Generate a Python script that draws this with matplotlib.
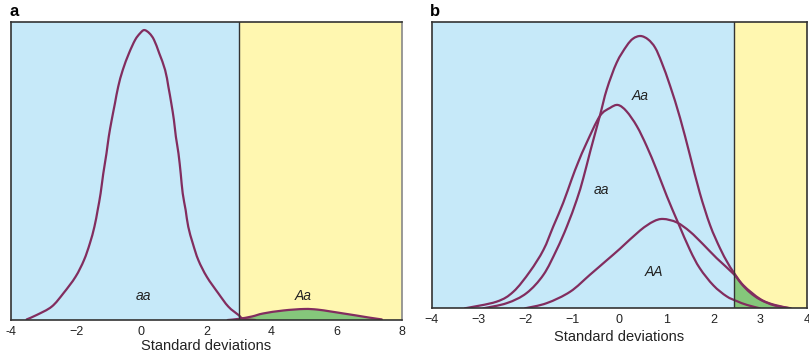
"""Liability-threshold sketch: genotype distributions against a disease threshold."""
import matplotlib
matplotlib.use("Agg")
import matplotlib.pyplot as plt
from matplotlib.path import Path
from matplotlib.patches import PathPatch, Rectangle
import numpy as np

plt.rcParams["font.family"] = ["Liberation Sans", "DejaVu Sans"]

# ---------------------------------------------------------------------------
# Data (in standard deviations / relative height)
# ---------------------------------------------------------------------------
# Panel a
a_threshold = 3.0
a_aa_x = [-3.52, -3.21, -2.75, -2.39, -2.02, -1.76, -1.58, -1.44, -1.34, -1.25,
          -1.17, -1.07, -1.00, -0.91, -0.81, -0.71, -0.57, -0.38, -0.19, -0.04,
          0.09, 0.25, 0.39, 0.55, 0.73, 0.83, 0.92, 1.00, 1.06, 1.14,
          1.21, 1.27, 1.36, 1.44, 1.58, 1.75, 2.01, 2.36, 2.67, 2.98, 3.13, 3.50]
a_aa_y = [0.002, 0.017, 0.045, 0.090, 0.145, 0.201, 0.257, 0.313, 0.369, 0.425,
          0.490, 0.559, 0.615, 0.671, 0.727, 0.783, 0.839, 0.895, 0.940, 0.962,
          0.973, 0.962, 0.940, 0.895, 0.839, 0.783, 0.727, 0.671, 0.615, 0.559,
          0.490, 0.425, 0.369, 0.313, 0.257, 0.201, 0.145, 0.090, 0.045, 0.017,
          0.004, 0.0]
a_Aa_x = [2.65, 3.0, 3.4, 3.74, 4.36, 5.0, 5.4, 5.79, 6.2, 6.61, 7.0, 7.38]
a_Aa_y = [0.0, 0.004, 0.012, 0.022, 0.032, 0.037, 0.035, 0.029, 0.022, 0.015, 0.008, 0.002]
a_ticks = [-4, -2, 0, 2, 4, 6, 8]
a_ticklabels = ["-4", "\u22122", "0", "2", "4", "6", "8"]

# Panel b
b_threshold = 2.43
b_aa_x = [-3.29, -2.62, -2.26, -1.91, -1.62, -1.41, -1.20, -1.02, -0.88, -0.70,
          -0.42, -0.20, -0.03, 0.15, 0.37, 0.58, 0.79, 1.01, 1.25, 1.50,
          1.71, 2.00, 2.28, 2.50, 2.71, 2.99]
b_aa_y = [0.0, 0.023, 0.058, 0.128, 0.204, 0.286, 0.368, 0.450, 0.510, 0.578,
          0.671, 0.700, 0.710, 0.688, 0.636, 0.566, 0.484, 0.391, 0.298, 0.204,
          0.140, 0.080, 0.042, 0.025, 0.012, 0.0]
b_Aa_x = [-2.90, -2.40, -1.98, -1.62, -1.34, -1.12, -0.91, -0.77, -0.62, -0.42,
          -0.27, -0.06, 0.15, 0.29, 0.45, 0.61, 0.76, 0.90, 1.08, 1.29,
          1.50, 1.71, 1.93, 2.14, 2.30, 2.43, 2.64, 3.00, 3.30, 3.65]
b_Aa_y = [0.0, 0.018, 0.053, 0.117, 0.204, 0.286, 0.379, 0.455, 0.550, 0.671,
          0.765, 0.858, 0.916, 0.942, 0.951, 0.939, 0.910, 0.858, 0.776, 0.665,
          0.535, 0.403, 0.290, 0.210, 0.160, 0.126, 0.080, 0.032, 0.012, 0.0]
b_AA_x = [-2.01, -1.55, -1.05, -0.63, -0.27, 0.01, 0.44, 0.72, 0.93, 1.22,
          1.50, 1.79, 2.07, 2.43, 2.60, 2.78, 3.00, 3.30, 3.63]
b_AA_y = [0.0, 0.018, 0.058, 0.117, 0.168, 0.208, 0.272, 0.303, 0.312, 0.300,
          0.268, 0.222, 0.175, 0.120, 0.085, 0.055, 0.030, 0.010, 0.0]
b_ticks = [-4, -3, -2, -1, 0, 1, 2, 3, 4]
b_ticklabels = ["\u22124", "\u22123", "\u22122", "\u22121", "0", "1", "2", "3", "4"]

# ---------------------------------------------------------------------------
# Style
# ---------------------------------------------------------------------------
BLUE = "#c6e9f9"
YELLOW = "#fff7b0"
GREEN = "#85c77b"
CURVE = "#822d5f"
FRAME = "#333333"
TEXT = "#222222"


def smooth_path(xs, ys, close_to_base=False):
    """Catmull-Rom spline through the points, as cubic Bezier path."""
    p = np.column_stack([xs, ys]).astype(float)
    ext = np.vstack([p[0], p, p[-1]])
    verts = [p[0]]
    codes = [Path.MOVETO]
    for i in range(len(p) - 1):
        p0, p1, p2, p3 = ext[i], ext[i + 1], ext[i + 2], ext[i + 3]
        verts += [p1 + (p2 - p0) / 6, p2 - (p3 - p1) / 6, p2]
        codes += [Path.CURVE4] * 3
    if close_to_base:
        verts += [(p[-1, 0], 0), (p[0, 0], 0), p[0]]
        codes += [Path.LINETO, Path.LINETO, Path.CLOSEPOLY]
    return Path(verts, codes)


def draw_curve(ax, xs, ys):
    ax.add_patch(PathPatch(smooth_path(xs, ys), fill=False, edgecolor=CURVE,
                           lw=1.6, zorder=3, capstyle="round"))


def fill_tail(ax, xs, ys, threshold, xmax):
    patch = PathPatch(smooth_path(xs, ys, close_to_base=True), facecolor=GREEN,
                      edgecolor="none", zorder=1)
    ax.add_patch(patch)
    clip = Rectangle((threshold, 0), xmax - threshold, 1, transform=ax.transData)
    patch.set_clip_path(clip)


def style_axes(ax, xlim, ticks, ticklabels, threshold, labelpad):
    ax.set_xlim(*xlim)
    ax.set_ylim(0, 1)
    ax.axvspan(xlim[0], threshold, color=BLUE, zorder=0, lw=0)
    ax.axvspan(threshold, xlim[1], color=YELLOW, zorder=0, lw=0)
    ax.axvline(threshold, color=FRAME, lw=1.0, zorder=4)
    ax.set_xticks(ticks)
    ax.set_xticklabels(ticklabels, fontsize=9, color=TEXT)
    ax.set_yticks([])
    ax.tick_params(axis="x", length=0, pad=4)
    ax.set_xlabel("Standard deviations", fontsize=10.5, color=TEXT, labelpad=labelpad)
    for s in ax.spines.values():
        s.set_color(FRAME)
        s.set_linewidth(1.2)
        s.set_zorder(5)


fig = plt.figure(figsize=(8.09, 3.54), dpi=100)

# --- Panel a ---
ax = fig.add_axes([0.0136, 0.096, 0.4833, 0.8418])
style_axes(ax, (-4, 8), a_ticks, a_ticklabels, a_threshold, labelpad=1)
ax.spines["right"].set_color("#888888")
fill_tail(ax, a_Aa_x, a_Aa_y, a_threshold, 8)
draw_curve(ax, a_aa_x, a_aa_y)
draw_curve(ax, a_Aa_x, a_Aa_y)
ax.text(0.05, 0.081, "aa", fontsize=10, style="italic", ha="center", va="center", color=TEXT)
ax.text(4.96, 0.081, "Aa", fontsize=10, style="italic", ha="center", va="center", color=TEXT)
fig.text(0.012, 0.968, "a", fontsize=12, fontweight="bold", va="center")

# --- Panel b ---
ax = fig.add_axes([0.5336, 0.1291, 0.4643, 0.8088])
style_axes(ax, (-4, 4), b_ticks, b_ticklabels, b_threshold, labelpad=3)
fill_tail(ax, b_Aa_x, b_Aa_y, b_threshold, 4)
for xs, ys in [(b_aa_x, b_aa_y), (b_Aa_x, b_Aa_y), (b_AA_x, b_AA_y)]:
    draw_curve(ax, xs, ys)
ax.text(0.45, 0.743, "Aa", fontsize=10, style="italic", ha="center", va="center", color=TEXT)
ax.text(-0.39, 0.414, "aa", fontsize=10, style="italic", ha="center", va="center", color=TEXT)
ax.text(0.74, 0.127, "AA", fontsize=10, style="italic", ha="center", va="center", color=TEXT)
fig.text(0.531, 0.968, "b", fontsize=12, fontweight="bold", va="center")

fig.savefig("out.png", dpi=100)
plt.close(fig)
